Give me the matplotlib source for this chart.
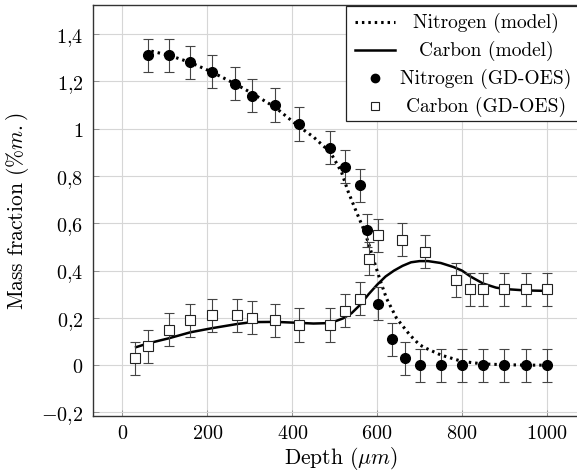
"""Nitrogen / carbon mass fraction vs depth: model curves and GD-OES points."""
import matplotlib
matplotlib.use("Agg")
import matplotlib.pyplot as plt
from matplotlib.patches import Rectangle
from matplotlib.lines import Line2D

plt.rcParams["font.family"] = "cmr10"
plt.rcParams["mathtext.fontset"] = "cm"
plt.rcParams["axes.formatter.use_mathtext"] = True
plt.rcParams["font.size"] = 14

# --- model curves ---
n_model_x = [68, 110, 160, 210, 265, 305, 360, 415, 450, 490, 516, 532, 548,
             566, 579, 591, 607, 622, 646, 677, 700, 717, 750, 800, 850, 900,
             950, 1000]
n_model_y = [1.328, 1.31, 1.28, 1.24, 1.19, 1.15, 1.09, 1.01, 0.965, 0.90,
             0.817, 0.733, 0.662, 0.585, 0.52, 0.45, 0.36, 0.283, 0.198,
             0.128, 0.086, 0.07, 0.043, 0.016, 0.005, 0.002, 0.0, 0.0]

c_model_x = [32, 60, 110, 160, 210, 270, 305, 360, 415, 450, 490, 520, 540,
             560, 580, 600, 620, 640, 660, 680, 700, 720, 750, 780, 800, 820,
             850, 880, 900, 950, 1000]
c_model_y = [0.076, 0.092, 0.114, 0.139, 0.156, 0.174, 0.182, 0.183, 0.179,
             0.176, 0.178, 0.198, 0.22, 0.255, 0.30, 0.34, 0.375, 0.40, 0.42,
             0.435, 0.44, 0.44, 0.432, 0.415, 0.40, 0.375, 0.345, 0.328,
             0.322, 0.316, 0.314]

# --- GD-OES measurements ---
n_meas_x = [60, 110, 160, 210, 265, 305, 360, 415, 490, 525, 560, 577, 603,
            635, 665, 700, 750, 800, 850, 900, 950, 1000]
n_meas_y = [1.31, 1.31, 1.28, 1.24, 1.19, 1.14, 1.10, 1.02, 0.92, 0.84, 0.76,
            0.57, 0.26, 0.11, 0.03, 0.0, 0.0, 0.0, 0.0, 0.0, 0.0, 0.0]
n_meas_err = [0.07, 0.07, 0.07, 0.07, 0.07, 0.07, 0.07, 0.07, 0.07, 0.07,
              0.07, 0.07, 0.07, 0.07, 0.07, 0.07, 0.07, 0.07, 0.07, 0.07,
              0.07, 0.07]

c_meas_x = [30, 60, 110, 160, 210, 270, 305, 360, 415, 490, 525, 560, 582,
            602, 658, 713, 785, 820, 850, 900, 950, 1000]
c_meas_y = [0.03, 0.08, 0.15, 0.19, 0.21, 0.21, 0.20, 0.19, 0.17, 0.17, 0.23,
            0.28, 0.45, 0.55, 0.53, 0.48, 0.36, 0.32, 0.32, 0.32, 0.32, 0.32]
c_meas_err = [0.07, 0.07, 0.07, 0.07, 0.07, 0.07, 0.07, 0.07, 0.07, 0.07,
              0.07, 0.07, 0.07, 0.07, 0.07, 0.07, 0.07, 0.07, 0.07, 0.07,
              0.07, 0.07]

x_ticks = [0, 200, 400, 600, 800, 1000]
y_ticks = [-0.2, 0, 0.2, 0.4, 0.6, 0.8, 1.0, 1.2, 1.4]
y_ticklabels = [r"$-0{,}2$", r"$0$", r"$0{,}2$", r"$0{,}4$", r"$0{,}6$",
                r"$0{,}8$", r"$1$", r"$1{,}2$", r"$1{,}4$"]

W, H = 577, 477
fig = plt.figure(figsize=(W / 100, H / 100), dpi=100)
# axes box in pixels (right edge runs past the crop, as in the original)
L, T, R, B = 93, 6, 588, 417
ax = fig.add_axes([L / W, (H - B) / H, (R - L) / W, (B - T) / H])

ax.set_xlim(-69.5, 1097)
ax.set_ylim(-0.215, 1.523)
ax.set_xticks(x_ticks)
ax.set_xticklabels([f"${v}$" for v in x_ticks])
ax.set_yticks(y_ticks)
ax.set_yticklabels(y_ticklabels)
ax.grid(True, color="#d6d6d6", linewidth=0.8)
ax.set_axisbelow(True)
ax.tick_params(direction="in", length=4, width=0.6, color="#888888",
               labelsize=14.5)
ax.tick_params(axis="x", pad=6)
ax.tick_params(axis="y", pad=7)
for s in ax.spines.values():
    s.set_color("#333333")
    s.set_linewidth(1.0)

ax.plot(n_model_x, n_model_y, color="black", lw=2.2, ls=(0, (0.8, 1.3)),
        zorder=3)
ax.plot(c_model_x, c_model_y, color="black", lw=1.8, zorder=3)

ax.errorbar(n_meas_x, n_meas_y, yerr=n_meas_err, fmt="o", color="black",
            ms=7, ecolor="#444444", elinewidth=0.8, capsize=3.3,
            capthick=0.8, zorder=4)
ax.errorbar(c_meas_x, c_meas_y, yerr=c_meas_err, fmt="s", mfc="white",
            mec="#222222", mew=0.8, ms=7, ecolor="#444444", elinewidth=0.8,
            capsize=3.3, capthick=0.8, zorder=4)

ax.set_xlabel(r"Depth ($\mu m$)", fontsize=15.5, labelpad=1)
ax.set_ylabel(r"Mass fraction ($\%m.$)", fontsize=15.5, labelpad=7)


# --- hand-built legend with centred entries ---
def fx(px):
    return (px - L) / (R - L)


def fy(py):
    return (B - py) / (B - T)


ax.add_patch(Rectangle((fx(346), fy(122)), fx(584) - fx(346),
                       fy(7) - fy(122), transform=ax.transAxes,
                       facecolor="white", edgecolor="#222222", lw=0.9,
                       zorder=10))
rows = [fy(23), fy(51), fy(79), fy(107)]
labels = ["Nitrogen (model)", "Carbon (model)", "Nitrogen (GD-OES)",
          "Carbon (GD-OES)"]
ax.add_line(Line2D([fx(355), fx(395)], [rows[0]] * 2, transform=ax.transAxes,
                   color="black", lw=2.2, ls=(0, (0.8, 1.3)), zorder=11))
ax.add_line(Line2D([fx(355), fx(395)], [rows[1]] * 2, transform=ax.transAxes,
                   color="black", lw=1.8, zorder=11))
ax.add_line(Line2D([fx(375)], [rows[2]], transform=ax.transAxes, marker="o",
                   color="black", ms=6, zorder=11))
ax.add_line(Line2D([fx(375)], [rows[3]], transform=ax.transAxes, marker="s",
                   mfc="white", mec="#222222", mew=0.8, ms=6, zorder=11))
for yy, lab in zip(rows, labels):
    ax.text(fx(486), yy, lab, transform=ax.transAxes, ha="center",
            va="center", fontsize=14, zorder=11)

fig.savefig("out.png", dpi=100)
